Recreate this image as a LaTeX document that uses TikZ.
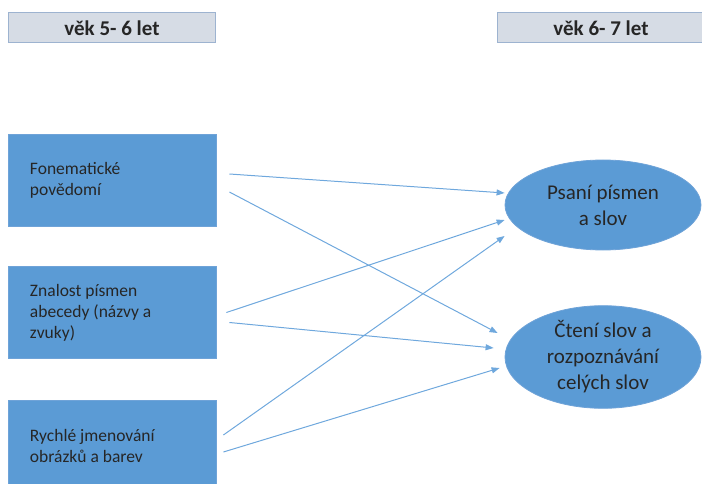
\documentclass[tikz,border=0pt]{standalone}
\usepackage{fontspec}
\setmainfont{Carlito}
\usetikzlibrary{shapes.geometric,arrows.meta,calc}
\definecolor{boxblue}{HTML}{5B9BD5}
\definecolor{boxedge}{HTML}{6FA3D8}
\definecolor{hdrfill}{HTML}{D6DCE5}
\definecolor{hdredge}{HTML}{9DB3D0}
\definecolor{arrcol}{HTML}{6FA8DD}
\definecolor{txt}{HTML}{262626}
\tikzset{
  hdr/.style={draw=hdredge, line width=1pt, fill=hdrfill, minimum width=207, minimum height=30, inner sep=0pt, text=txt, font=\bfseries\fontsize{21}{24}\selectfont},
  srcbox/.style={draw=boxedge, line width=0.8pt, fill=boxblue, minimum width=208, minimum height=92, inner xsep=22, inner ysep=0pt, text width=164, align=flush left, text=txt, font=\fontsize{17.5}{21}\selectfont},
  goal/.style={ellipse, draw=boxedge, line width=0.8pt, fill=boxblue, minimum width=196, minimum height=90, inner sep=0pt, align=flush center, text=txt, font=\fontsize{21}{26}\selectfont},
  arr/.style={draw=arrcol, line width=1pt, -{Triangle[length=8pt,width=6pt]}}
}
\begin{document}
\begin{tikzpicture}[x=1pt,y=-1pt]
\useasboundingbox (0,0) rectangle (702,484);
\node[hdr] (h1) at (112,28) {věk 5- 6 let};
\node[hdr] (h2) at (601,28) {věk 6- 7 let};
\node[srcbox] (b1) at (112,180) {Fonematické\\povědomí\\[14pt]};
\node[srcbox] (b2) at (112,312.5) {Znalost písmen\\abecedy (názvy a\\zvuky)};
\node[srcbox] (b3) at (112,446) {Rychlé jmenování\\obrázků a barev};
\node[goal] (e1) at (603,205) {Psaní písmen\\a slov};
\node[goal] (e2) at (603,357) {Čtení slov a\\rozpoznávání\\celých slov};
\draw[arr] ($(b1.east)+(13,-6)$) -- ($(e1.west)+(0,-12)$);
\draw[arr] ($(b1.east)+(13,12)$) -- ($(e2.west)+(-7,-24)$);
\draw[arr] ($(b2.east)+(10,0)$) -- ($(e1.west)+(0,15)$);
\draw[arr] ($(b2.east)+(13,10)$) -- ($(e2.west)+(-11,-9)$);
\draw[arr] ($(b3.east)+(7,-11)$) -- ($(e1.west)+(0,31)$);
\draw[arr] ($(b3.east)+(7,6)$) -- ($(e2.west)+(-5,11)$);
\end{tikzpicture}
\end{document}
